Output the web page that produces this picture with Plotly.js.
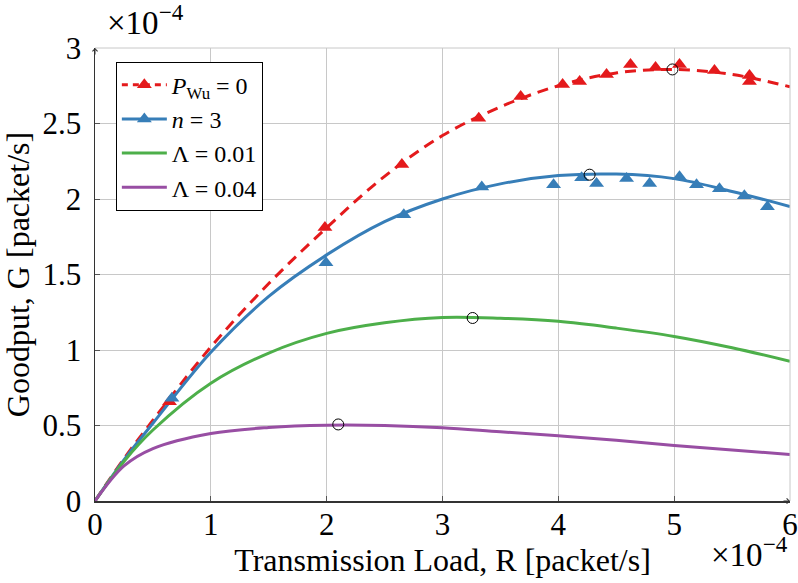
<!DOCTYPE html>
<html><head><meta charset="utf-8">
<script src="https://cdn.plot.ly/plotly-3.0.1.min.js"></script>
<style>html,body{margin:0;padding:0;background:#fff}#chart{width:798px;height:583px}</style>
</head><body><div id="chart"></div>
<script>
// Smooth curves, units of 1e-4
const lineX   = [0, 0.25, 0.5, 1, 1.5, 2, 2.5, 3, 3.5, 4, 4.5, 5, 5.5, 6];
const redY    = [0, 0.28, 0.535, 1.02, 1.44, 1.81, 2.15, 2.42, 2.61, 2.75, 2.835, 2.858, 2.825, 2.743];
const blueY   = [0, 0.272, 0.515, 0.985, 1.355, 1.63, 1.85, 2.0, 2.1, 2.155, 2.165, 2.135, 2.05, 1.95];
const greenY  = [0, 0.262, 0.47, 0.78, 0.98, 1.11, 1.18, 1.215, 1.21, 1.19, 1.145, 1.09, 1.015, 0.925];
const purpleY = [0, 0.232, 0.347, 0.447, 0.487, 0.502, 0.5, 0.485, 0.458, 0.432, 0.403, 0.368, 0.338, 0.308];

// Simulation markers
const redMX  = [0.643, 1.985, 2.649, 3.313, 3.675, 4.037, 4.184, 4.416, 4.623, 4.839, 5.046, 5.348, 5.65, 5.65];
const redMY  = [0.657, 1.812, 2.228, 2.535, 2.679, 2.759, 2.778, 2.825, 2.891, 2.871, 2.891, 2.851, 2.818, 2.778];
const blueMX = [0.664, 1.994, 2.666, 3.339, 3.959, 4.201, 4.33, 4.589, 4.788, 5.046, 5.193, 5.391, 5.606, 5.805];
const blueMY = [0.68, 1.577, 1.896, 2.08, 2.095, 2.141, 2.102, 2.135, 2.102, 2.148, 2.095, 2.068, 2.022, 1.949];

// Maxima (open circles)
const maxX = [4.985, 4.27, 3.26, 2.1];
const maxY = [2.858, 2.161, 1.212, 0.507];

const xTicks = [0, 1, 2, 3, 4, 5, 6];
const yTicks = [0, 0.5, 1, 1.5, 2, 2.5, 3];
const yTickText = ['0', '0.5', '1', '1.5', '2', '2.5', '3'];

const names = ['<i>P</i><sub>Wu</sub> = 0', '<i>n</i> = 3', 'Λ = 0.01', 'Λ = 0.04'];
const RED = '#e41a1c', BLUE = '#377eb8', GREEN = '#4daf4a', PURPLE = '#984ea3';
const FONT = 'Liberation Serif, Times New Roman, serif';
const dash = '11px,7px';
const FS = 31;

const traces = [
  {x: lineX, y: redY, mode: 'lines', line: {color: RED, width: 3, dash: dash, shape: 'spline'}, showlegend: false},
  {x: lineX, y: blueY, mode: 'lines', line: {color: BLUE, width: 3, shape: 'spline'}, showlegend: false},
  {x: lineX, y: greenY, mode: 'lines', line: {color: GREEN, width: 3, shape: 'spline'}, showlegend: false},
  {x: lineX, y: purpleY, mode: 'lines', line: {color: PURPLE, width: 3, shape: 'spline'}, showlegend: false},
  {x: redMX, y: redMY, mode: 'markers', marker: {symbol: 'triangle-up', size: 13, color: RED}, showlegend: false},
  {x: blueMX, y: blueMY, mode: 'markers', marker: {symbol: 'triangle-up', size: 13, color: BLUE}, showlegend: false},
  {x: maxX, y: maxY, mode: 'markers', marker: {symbol: 'circle-open', size: 11, color: '#000', line: {width: 1, color: '#000'}}, showlegend: false},
  // legend entries
  {x: [null], y: [null], name: names[0], mode: 'lines+markers', line: {color: RED, width: 3, dash: '6px,5px'}, marker: {symbol: 'triangle-up', size: 13, color: RED}},
  {x: [null], y: [null], name: names[1], mode: 'lines+markers', line: {color: BLUE, width: 3}, marker: {symbol: 'triangle-up', size: 13, color: BLUE}},
  {x: [null], y: [null], name: names[2], mode: 'lines', line: {color: GREEN, width: 3}},
  {x: [null], y: [null], name: names[3], mode: 'lines', line: {color: PURPLE, width: 3}}
];

const layout = {
  width: 798, height: 583,
  margin: {l: 95, r: 8, t: 48, b: 82},
  paper_bgcolor: '#fff', plot_bgcolor: '#fff',
  font: {family: FONT, size: FS, color: '#000'},
  xaxis: {
    range: [0, 6], tickvals: xTicks, ticktext: xTicks.map(String),
    showgrid: true, gridcolor: '#c8c8c8', gridwidth: 1,
    showline: true, linecolor: '#333', linewidth: 1.5,
    ticks: 'inside', ticklen: 5, tickcolor: '#555', zeroline: false,
    ticklabelstandoff: -5,
    tickfont: {family: FONT, size: FS, color: '#000'},
    title: {text: 'Transmission Load, R [packet/s]', font: {family: FONT, size: 32, color: '#000'}, standoff: 0}
  },
  yaxis: {
    range: [0, 3], tickvals: yTicks, ticktext: yTickText,
    showgrid: true, gridcolor: '#c8c8c8', gridwidth: 1,
    showline: true, linecolor: '#333', linewidth: 1.5,
    ticks: 'inside', ticklen: 5, tickcolor: '#555', zeroline: false,
    ticklabelstandoff: 6,
    tickfont: {family: FONT, size: FS, color: '#000'},
    title: {text: 'Goodput, G [packet/s]', font: {family: FONT, size: 32, color: '#000'}, standoff: 6}
  },
  legend: {
    x: 0.03, y: 0.97, xanchor: 'left', yanchor: 'top',
    bgcolor: '#fff', bordercolor: '#000', borderwidth: 1,
    font: {family: FONT, size: 24, color: '#000'},
    itemwidth: 45, tracegroupgap: 0
  },
  shapes: [
    {type: 'line', xref: 'paper', yref: 'paper', x0: 0, x1: 1, y0: 1, y1: 1, line: {color: '#c8c8c8', width: 1}},
    {type: 'line', xref: 'paper', yref: 'paper', x0: 1, x1: 1, y0: 0, y1: 1, line: {color: '#c8c8c8', width: 1}}
  ],
  annotations: [
    {xref: 'paper', yref: 'paper', x: 0.015, y: 1.062, xanchor: 'left', yanchor: 'middle', showarrow: false,
     text: '×10<sup>−4</sup>', font: {family: FONT, size: 33, color: '#000'}},
    {xref: 'paper', yref: 'paper', x: 1.0, y: -0.112, xanchor: 'right', yanchor: 'middle', showarrow: false,
     text: '×10<sup>−4</sup>', font: {family: FONT, size: 33, color: '#000'}},
    {xref: 'x', yref: 'y', x: 0, y: 3, ax: 0, ay: 8, text: '', showarrow: true, arrowhead: 4, arrowsize: 1, arrowwidth: 1, arrowcolor: '#333'},
    {xref: 'x', yref: 'y', x: 6, y: 0, ax: -8, ay: 0, text: '', showarrow: true, arrowhead: 4, arrowsize: 1, arrowwidth: 1, arrowcolor: '#333'}
  ]
};

Plotly.newPlot('chart', traces, layout, {displayModeBar: false, staticPlot: true});
</script>
</body></html>
